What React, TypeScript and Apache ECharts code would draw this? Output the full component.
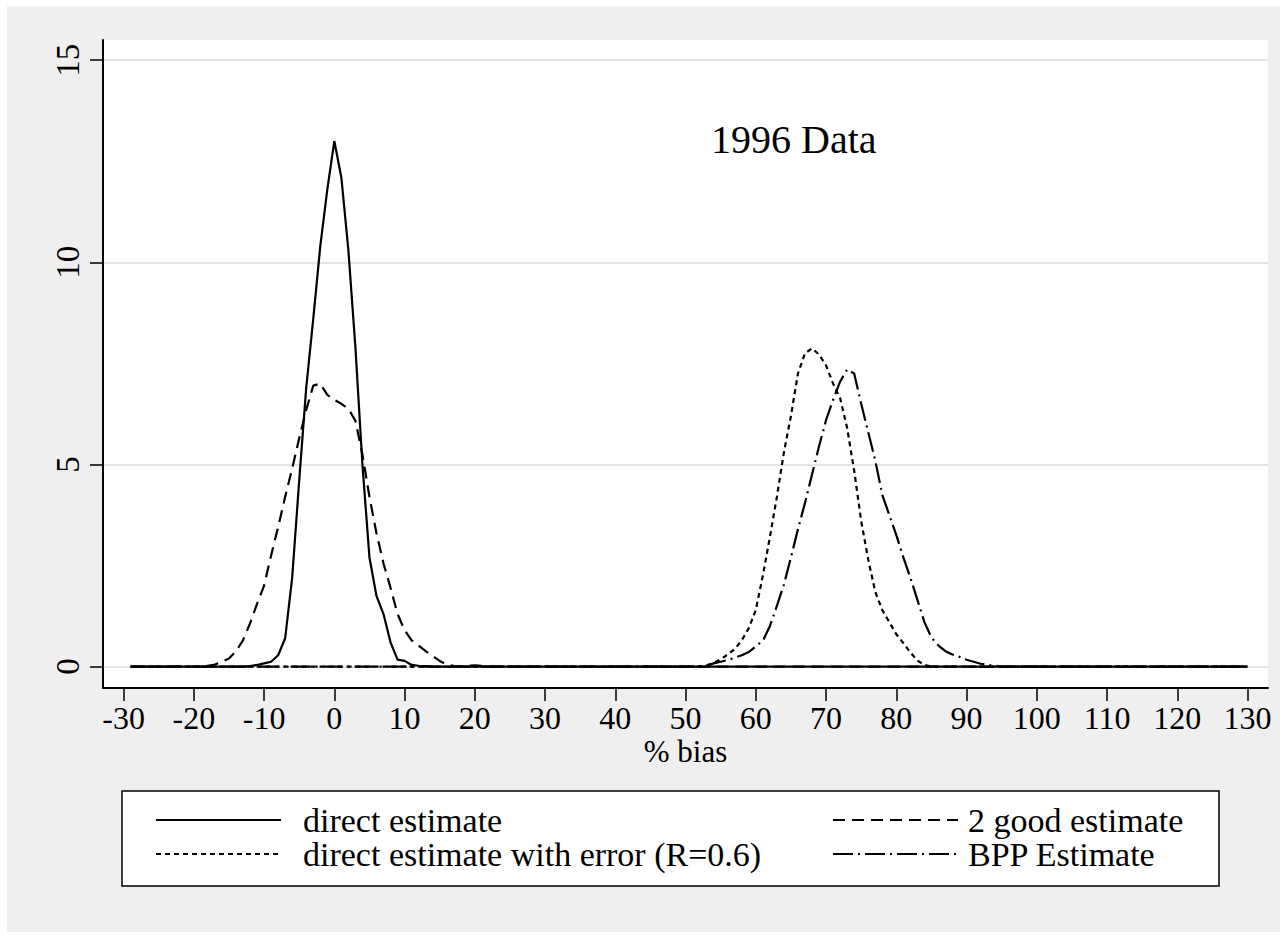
import React, { useEffect, useRef } from "react";
import * as echarts from "echarts";

const FONT = '"Liberation Serif", "Times New Roman", serif';

const xTicks = [-30, -20, -10, 0, 10, 20, 30, 40, 50, 60, 70, 80, 90, 100, 110, 120, 130];
const yTicks = [0, 5, 10, 15];

const seriesNames = [
  "direct estimate",
  "2 good estimate",
  "direct estimate with error (R=0.6)",
  "BPP Estimate",
];

const directX = [-29, -13, -12, -11, -10, -9, -8, -7, -6, -5, -4, -3, -2, -1, 0, 1, 2, 3, 4, 5, 6, 7, 8, 9, 10, 11, 12, 13, 14, 130];
const directY = [0, 0, 0.01, 0.04, 0.08, 0.12, 0.28, 0.7, 2.2, 4.6, 6.9, 8.6, 10.4, 11.8, 13.0, 12.1, 10.3, 7.9, 5.0, 2.7, 1.75, 1.3, 0.6, 0.17, 0.14, 0.04, 0.02, 0.01, 0, 0];

const goodX = [-29, -19, -18, -17, -16, -15, -14, -13, -12, -11, -10, -9, -8, -7, -6, -5, -4, -3, -2, -1, 0, 1, 2, 3, 4, 5, 6, 7, 8, 9, 10, 11, 12, 13, 14, 15, 16, 17, 18, 19, 20, 21, 22, 130];
const goodY = [0, 0, 0.02, 0.05, 0.12, 0.2, 0.38, 0.65, 1.07, 1.55, 2.0, 2.75, 3.45, 4.2, 4.9, 5.65, 6.35, 6.95, 7.0, 6.72, 6.6, 6.5, 6.38, 6.08, 5.25, 4.2, 3.3, 2.55, 1.95, 1.3, 0.9, 0.65, 0.52, 0.38, 0.26, 0.14, 0.05, 0.02, 0.01, 0.02, 0.03, 0.02, 0, 0];

const errorX = [-29, 52, 53, 54, 55, 56, 57, 58, 59, 60, 61, 62, 63, 64, 65, 66, 67, 68, 69, 70, 71, 72, 73, 74, 75, 76, 77, 78, 79, 80, 81, 82, 83, 84, 85, 130];
const errorY = [0, 0, 0.03, 0.09, 0.18, 0.3, 0.43, 0.65, 0.95, 1.4, 2.25, 3.2, 4.2, 5.3, 6.2, 7.25, 7.75, 7.87, 7.72, 7.45, 7.0, 6.64, 5.9, 4.85, 3.6, 2.65, 1.85, 1.4, 1.1, 0.8, 0.58, 0.35, 0.15, 0.04, 0, 0];

const bppX = [-29, 52, 53, 54, 55, 56, 57, 58, 59, 60, 61, 62, 63, 64, 65, 66, 67, 68, 69, 70, 71, 72, 73, 74, 75, 76, 77, 78, 79, 80, 81, 82, 83, 84, 85, 86, 87, 88, 89, 90, 91, 92, 93, 94, 95, 130];
const bppY = [0, 0, 0.02, 0.08, 0.12, 0.16, 0.22, 0.28, 0.36, 0.5, 0.64, 1.0, 1.5, 2.03, 2.7, 3.4, 4.05, 4.75, 5.45, 6.1, 6.6, 7.05, 7.35, 7.25, 6.5, 5.8, 5.1, 4.25, 3.75, 3.25, 2.7, 2.2, 1.65, 1.1, 0.72, 0.52, 0.38, 0.3, 0.24, 0.17, 0.12, 0.07, 0.04, 0.02, 0, 0];

const zip = (xs: number[], ys: number[]) => xs.map((x, i) => [x, ys[i]]);

export default function App() {
  const ref = useRef<HTMLDivElement>(null);
  useEffect(() => {
    document.body.style.margin = "0";
    const chart = echarts.init(ref.current!, null, { renderer: "svg" });
    const lineSeries = (name: string, data: number[][], type: any) => ({
      name,
      type: "line",
      data,
      symbol: "none",
      showSymbol: false,
      smooth: false,
      lineStyle: { color: "#000", width: 2.2, type },
      itemStyle: { color: "#000" },
      z: 3,
    });
    const legendBase = {
      orient: "vertical",
      top: 803,
      padding: 0,
      itemWidth: 125,
      itemHeight: 14,
      itemGap: 0,
      selectedMode: false,
      itemStyle: { opacity: 0, borderWidth: 0, color: "rgba(0,0,0,0)" },
    };
    chart.setOption({
      animation: false,
      backgroundColor: "#ffffff",
      graphic: [
        {
          type: "rect",
          shape: { x: 7, y: 6, width: 1273, height: 926 },
          style: { fill: "#efefef" },
          z: -10,
          silent: true,
        },
        {
          type: "rect",
          shape: { x: 122, y: 791, width: 1097, height: 95 },
          style: { fill: "#ffffff", stroke: "#000", lineWidth: 1.5 },
          z: -5,
          silent: true,
        },
      ],
      title: {
        text: "1996 Data",
        left: 711,
        top: 119,
        padding: 0,
        textStyle: { fontFamily: FONT, fontSize: 40, fontWeight: "normal", color: "#000" },
      },
      legend: [
        {
          ...legendBase,
          data: [seriesNames[0], seriesNames[2]],
          left: 155,
          textStyle: { fontFamily: FONT, fontSize: 34, color: "#000", padding: [0, 0, 0, 17] },
        },
        {
          ...legendBase,
          data: [seriesNames[1], seriesNames[3]],
          left: 832,
          textStyle: { fontFamily: FONT, fontSize: 34, color: "#000", padding: [0, 0, 0, 5] },
        },
      ],
      grid: {
        left: 103,
        right: 19,
        top: 40,
        bottom: 250,
        show: true,
        backgroundColor: "#ffffff",
        borderWidth: 0,
        containLabel: false,
      },
      xAxis: {
        type: "value",
        min: -32.93,
        max: 132.91,
        name: "% bias",
        nameLocation: "middle",
        nameGap: 52,
        nameMoveOverlap: false,
        nameTextStyle: { fontFamily: FONT, fontSize: 31, color: "#000", lineHeight: 22 },
        axisLine: { show: true, onZero: false, lineStyle: { color: "#000", width: 2 } },
        axisTick: {
          show: true,
          inside: false,
          length: 13,
          customValues: xTicks,
          lineStyle: { color: "#000", width: 1.5 },
        },
        axisLabel: {
          customValues: xTicks,
          margin: 19,
          fontFamily: FONT,
          fontSize: 32,
          lineHeight: 22,
          color: "#000",
        },
        splitLine: { show: false },
      },
      yAxis: {
        type: "value",
        min: -0.53,
        max: 15.5,
        axisLine: { show: true, onZero: false, lineStyle: { color: "#000", width: 2 } },
        axisTick: {
          show: true,
          inside: false,
          length: 13,
          customValues: yTicks,
          lineStyle: { color: "#000", width: 1.5 },
        },
        axisLabel: {
          customValues: yTicks,
          rotate: 90,
          margin: 19,
          fontFamily: FONT,
          fontSize: 33,
          color: "#000",
        },
        splitLine: { show: true, lineStyle: { color: "#e4e4e4", width: 2 } },
      },
      series: [
        lineSeries(seriesNames[0], zip(directX, directY), "solid"),
        lineSeries(seriesNames[1], zip(goodX, goodY), [12, 7]),
        lineSeries(seriesNames[2], zip(errorX, errorY), [5, 4]),
        lineSeries(seriesNames[3], zip(bppX, bppY), [20, 5, 2, 5]),
      ],
    });
    return () => chart.dispose();
  }, []);
  return <div ref={ref} style={{ width: 1287, height: 938 }} />;
}
